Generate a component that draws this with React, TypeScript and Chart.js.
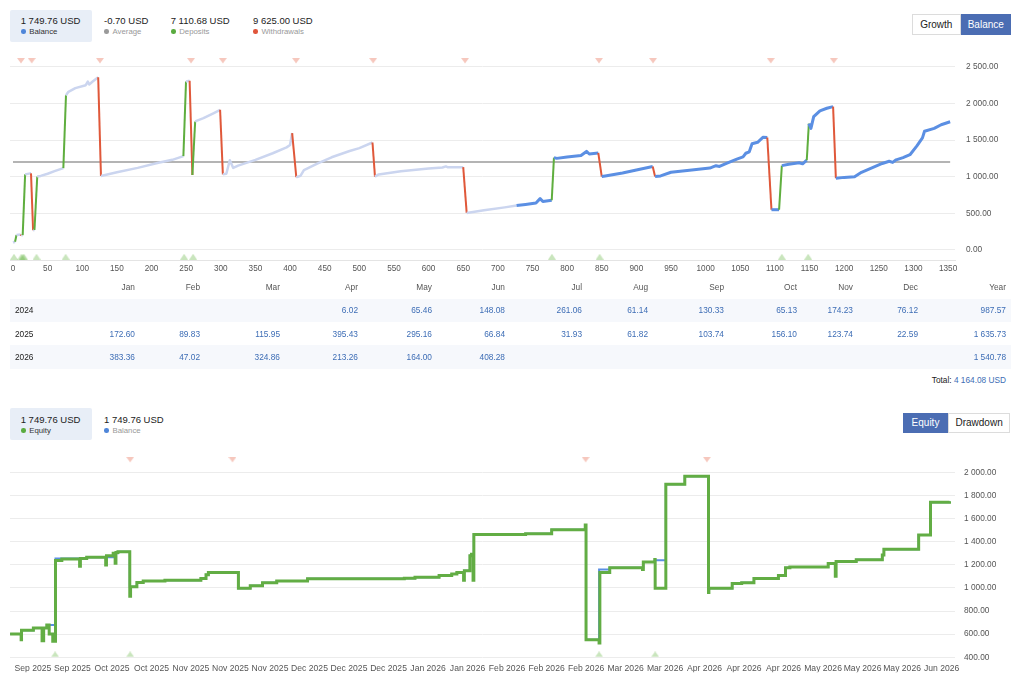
import React, { useEffect, useRef } from 'react';
import { Chart, registerables } from 'chart.js';
Chart.register(...registerables);

const FONT = '"Liberation Sans", Arial, Helvetica, sans-serif';

// ---------- header data ----------
const topStatValues = ['1 749.76 USD', '-0.70 USD', '7 110.68 USD', '9 625.00 USD'];
const topStatLabels = ['Balance', 'Average', 'Deposits', 'Withdrawals'];
const topStatColors = ['#4f86d9', '#9a9a9a', '#5aab3f', '#e0553b'];
const bottomStatValues = ['1 749.76 USD', '1 749.76 USD'];
const bottomStatLabels = ['Equity', 'Balance'];
const bottomStatColors = ['#5aab3f', '#4f86d9'];

// ---------- top chart data (balance by trade #) ----------
const balanceX = [0, 3, 5, 11, 12, 14, 17.5, 25, 26, 29, 31, 35, 40, 50, 60, 72.7, 76.5, 80, 90, 105, 108, 110, 115, 123, 127, 150, 180, 210, 230, 246, 249.8, 255, 259, 263, 275, 290, 299, 303, 308, 313, 318, 325, 350, 375, 395, 400, 403, 409, 415, 420, 440, 460, 486, 500, 519, 522.6, 528, 560, 600, 620, 625, 628, 650, 655, 680, 710, 727, 740, 755, 761, 765, 777.8, 781, 785, 800, 820, 828, 832, 845, 850, 855, 880, 900, 923.6, 927, 935, 950, 980, 1006, 1015, 1020, 1030, 1045, 1054, 1058, 1063, 1067, 1075, 1083, 1089, 1095, 1106, 1110, 1120, 1135, 1140, 1146, 1149, 1152, 1156, 1165, 1175, 1184, 1188, 1200, 1215, 1225, 1240, 1255, 1265, 1270, 1275, 1285, 1295, 1305, 1313, 1316, 1330, 1340, 1353];
const balanceY = [100, 110, 203, 210, 195, 200, 1031, 1045, 1045, 268, 270, 1001, 1010, 1040, 1075, 1117, 2113, 2160, 2210, 2250, 2300, 2260, 2300, 2359, 1009, 1060, 1120, 1190, 1230, 1281, 2302, 2310, 1022, 1755, 1800, 1870, 1914, 1031, 1040, 1225, 1119, 1150, 1230, 1320, 1400, 1432, 1596, 992, 1010, 1090, 1180, 1265, 1350, 1390, 1467, 1001, 1030, 1075, 1110, 1125, 1140, 1128, 1130, 504, 540, 580, 604, 620, 640, 699, 660, 677, 1260, 1250, 1270, 1290, 1345, 1310, 1324, 1001, 1010, 1050, 1090, 1138, 1001, 1010, 1060, 1090, 1117, 1150, 1140, 1182, 1240, 1270, 1320, 1340, 1449, 1470, 1539, 1535, 548, 548, 1151, 1170, 1190, 1175, 1225, 1725, 1660, 1820, 1900, 1935, 1958, 979, 990, 1000, 1060, 1120, 1180, 1210, 1195, 1230, 1260, 1300, 1420, 1530, 1620, 1660, 1710, 1750];
const depositEnds = [5, 17.5, 35, 76.5, 249.8, 263, 781, 1110, 1149];
const withdrawalEnds = [12, 29, 127, 259, 303, 409, 522.6, 655, 850, 927, 1095, 1188];
const highlightFrom = 727;
const averageValue = 1200;
const averageSpan = [0, 1353];
const withdrawalMarksX = [11.5, 27, 125.6, 257, 303, 408.6, 520, 652.6, 846, 924, 1094, 1185];
const depositMarksX = [1.4, 12, 14, 16, 34, 76, 247, 260, 778, 847, 1110, 1148];
const topXTicks = Array.from({ length: 28 }, (_, i) => i * 50);
const topYTicks = [0, 500, 1000, 1500, 2000, 2500];

// ---------- monthly table ----------
const months = ['Jan', 'Feb', 'Mar', 'Apr', 'May', 'Jun', 'Jul', 'Aug', 'Sep', 'Oct', 'Nov', 'Dec'];
const years = ['2024', '2025', '2026'];
const returns2024 = [null, null, null, 6.02, 65.46, 148.08, 261.06, 61.14, 130.33, 65.13, 174.23, 76.12];
const returns2025 = [172.6, 89.83, 115.95, 395.43, 295.16, 66.84, 31.93, 61.82, 103.74, 156.1, 123.74, 22.59];
const returns2026 = [383.36, 47.02, 324.86, 213.26, 164.0, 408.28, null, null, null, null, null, null];
const yearTotals = [987.57, 1635.73, 1540.78];
const grandTotal = 4164.08;

// ---------- bottom chart data (equity / balance over time) ----------
const dateLabels = ['Sep 2025', 'Sep 2025', 'Oct 2025', 'Oct 2025', 'Nov 2025', 'Nov 2025', 'Nov 2025', 'Dec 2025', 'Dec 2025', 'Dec 2025', 'Jan 2026', 'Jan 2026', 'Feb 2026', 'Feb 2026', 'Feb 2026', 'Mar 2026', 'Mar 2026', 'Apr 2026', 'Apr 2026', 'Apr 2026', 'May 2026', 'May 2026', 'May 2026', 'Jun 2026'];
const equityX = [-0.58, -0.3, -0.29, 0.01, 0.23, 0.27, 0.35, 0.41, 0.5, 0.57, 0.73, 1.18, 1.2, 1.36, 1.84, 1.86, 2.03, 2.08, 2.1, 2.15, 2.45, 2.47, 2.63, 2.79, 3.34, 4.25, 4.38, 4.44, 5.2, 5.5, 5.81, 6.17, 6.95, 9.4, 9.67, 10.28, 10.6, 10.73, 10.9, 10.92, 11.06, 11.1, 11.14, 11.16, 12.47, 13.13, 13.98, 14.0, 14.33, 14.35, 14.6, 15.43, 15.45, 15.74, 15.75, 16.02, 16.5, 17.1, 17.11, 17.7, 17.94, 18.25, 18.87, 19.05, 19.16, 20.13, 20.31, 20.33, 20.84, 21.5, 21.54, 22.42, 22.72, 23.2];
const equityY = [601, 552, 634, 653, 543, 653, 680, 601, 538, 1239, 1250, 1189, 1255, 1266, 1200, 1280, 1300, 1215, 1307, 1313, 928, 1010, 1047, 1060, 1068, 1083, 1115, 1134, 997, 1019, 1046, 1060, 1079, 1085, 1093, 1109, 1122, 1134, 1068, 1150, 1280, 1293, 1068, 1464, 1470, 1505, 1546, 552, 524, 1134, 1175, 1160, 1225, 1247, 997, 1899, 1967, 962, 997, 1038, 1046, 1082, 1109, 1175, 1182, 1211, 1101, 1230, 1244, 1286, 1335, 1459, 1742, 1750];
const balance2X = [-0.58, -0.29, 0.01, 0.35, 0.57, 1.36, 2.03, 2.15, 2.45, 2.63, 2.79, 3.34, 4.25, 4.38, 4.44, 5.2, 5.5, 5.81, 6.17, 6.95, 9.4, 9.67, 10.28, 10.6, 10.73, 10.92, 11.06, 11.1, 11.16, 12.47, 13.13, 13.98, 14.0, 14.33, 14.6, 15.45, 15.74, 16.02, 16.5, 17.1, 17.7, 17.94, 18.25, 18.87, 19.05, 19.16, 20.13, 20.33, 20.84, 21.5, 21.54, 22.42, 22.72, 23.2];
const balance2Y = [601, 634, 653, 680, 1255, 1266, 1300, 1313, 1010, 1047, 1060, 1068, 1083, 1115, 1134, 997, 1019, 1046, 1060, 1079, 1085, 1093, 1109, 1122, 1134, 1150, 1280, 1293, 1464, 1470, 1505, 1510, 552, 1160, 1175, 1225, 1240, 1899, 1967, 997, 1038, 1046, 1082, 1109, 1175, 1182, 1211, 1230, 1244, 1286, 1335, 1459, 1742, 1750];
const bottomWithdrawalMarksX = [2.46, 5.05, 13.99, 17.06];
const bottomDepositMarksX = [0.56, 2.46, 14.33, 15.75];
const bottomYTicks = [400, 600, 800, 1000, 1200, 1400, 1600, 1800, 2000];

// ---------- helpers ----------
const fmt = (v: number) => {
  const [i, d] = Number(v).toFixed(2).split('.');
  return i.replace(/\B(?=(\d{3})+(?!\d))/g, ' ') + '.' + d;
};

function makeTriangle(color: string, down: boolean, w = 8, h = 5.5) {
  const c = document.createElement('canvas');
  c.width = Math.ceil(w);
  c.height = Math.ceil(h);
  const ctx = c.getContext('2d')!;
  ctx.fillStyle = color;
  ctx.beginPath();
  if (down) {
    ctx.moveTo(0, 0); ctx.lineTo(w, 0); ctx.lineTo(w / 2, h);
  } else {
    ctx.moveTo(0, h); ctx.lineTo(w, h); ctx.lineTo(w / 2, 0);
  }
  ctx.closePath();
  ctx.fill();
  return c;
}

const GRID = '#ececec';
const TICK = '#555';
const GREEN = '#5fae3e';
const RED = '#e0583a';
const BLUE = '#5b8fe3';
const LIGHT = '#cbd5ef';

function ChartCanvas({ build, width, height, style }: any) {
  const ref = useRef<HTMLCanvasElement>(null);
  useEffect(() => {
    const chart = new Chart(ref.current!, build());
    return () => chart.destroy();
  }, []);
  return <canvas ref={ref} width={width} height={height} style={{ display: 'block', width, height, ...style }} />;
}

function buildTop(): any {
  const pink = makeTriangle('rgba(236,130,108,0.45)', true, 8, 5.5);
  const green = makeTriangle('rgba(120,190,90,0.4)', false, 8, 6);
  const kind = (x: number) =>
    depositEnds.includes(x) ? 'd' : withdrawalEnds.includes(x) ? 'w' : x <= highlightFrom ? 'l' : 'b';
  return {
    type: 'line',
    data: {
      datasets: [
        {
          data: balanceX.map((x, i) => ({ x, y: balanceY[i] })),
          pointRadius: 0,
          borderColor: LIGHT,
          borderWidth: 2.5,
          borderJoinStyle: 'round',
          segment: {
            borderColor: (c: any) => {
              const k = kind(c.p1.parsed.x);
              return k === 'd' ? GREEN : k === 'w' ? RED : k === 'l' ? LIGHT : BLUE;
            },
            borderWidth: (c: any) => {
              const k = kind(c.p1.parsed.x);
              return k === 'd' || k === 'w' ? 2 : k === 'l' ? 2.5 : 3;
            },
          },
        },
        {
          data: averageSpan.map((x) => ({ x, y: averageValue })),
          pointRadius: 0,
          borderColor: '#9b9b9b',
          borderWidth: 1.5,
        },
        {
          data: withdrawalMarksX.map((x) => ({ x, y: 2583 })),
          showLine: false,
          pointStyle: pink,
          pointRadius: 4,
        },
        {
          data: depositMarksX.map((x) => ({ x, y: -95 })),
          showLine: false,
          pointStyle: green,
          pointRadius: 4,
        },
      ],
    },
    options: {
      animation: false,
      responsive: false,
      maintainAspectRatio: false,
      events: [],
      layout: { padding: { left: 10, top: 5.8, right: 0, bottom: 0 } },
      plugins: { legend: { display: false }, tooltip: { enabled: false } },
      scales: {
        x: {
          type: 'linear',
          min: -4.33,
          max: 1360,
          grid: { display: false, drawTicks: false },
          border: { display: true, color: '#e4e4e4' },
          ticks: {
            font: { family: FONT, size: 8.2 }, color: TICK, padding: 4, maxRotation: 0, autoSkip: false,
            callback: (v: any) => String(v),
          },
          afterBuildTicks: (a: any) => { a.ticks = topXTicks.map((v) => ({ value: v })); },
          afterFit: (s: any) => { s.height = 15; },
        },
        y: {
          position: 'right',
          min: -140,
          max: 2650,
          grid: { color: GRID, drawTicks: false },
          border: { display: false },
          ticks: { font: { family: FONT, size: 8.3 }, color: TICK, padding: 11, callback: (v: any) => fmt(v) },
          afterBuildTicks: (a: any) => { a.ticks = topYTicks.map((v) => ({ value: v })); },
          afterFit: (s: any) => { s.width = 69; },
        },
      },
    },
  };
}

function buildBottom(): any {
  const pink = makeTriangle('rgba(236,130,108,0.45)', true, 8, 5.5);
  const green = makeTriangle('rgba(120,190,90,0.4)', false, 8, 5.5);
  return {
    type: 'line',
    data: {
      datasets: [
        {
          data: equityX.map((x, i) => ({ x, y: equityY[i] })),
          stepped: 'before',
          pointRadius: 0,
          borderColor: '#62ad44',
          borderWidth: 3,
        },
        {
          data: balance2X.map((x, i) => ({ x, y: balance2Y[i] })),
          stepped: 'before',
          pointRadius: 0,
          borderColor: BLUE,
          borderWidth: 2,
        },
        {
          data: bottomWithdrawalMarksX.map((x) => ({ x, y: 2110 })),
          showLine: false,
          pointStyle: pink,
          pointRadius: 4,
        },
        {
          data: bottomDepositMarksX.map((x) => ({ x, y: 425 })),
          showLine: false,
          pointStyle: green,
          pointRadius: 4,
        },
      ],
    },
    options: {
      animation: false,
      responsive: false,
      maintainAspectRatio: false,
      events: [],
      layout: { padding: { left: 10, top: 4.3, right: 0, bottom: 0.7 } },
      plugins: { legend: { display: false }, tooltip: { enabled: false } },
      scales: {
        x: {
          type: 'linear',
          min: -0.582,
          max: 23.34,
          grid: { display: false, drawTicks: false },
          border: { display: false },
          ticks: {
            font: { family: FONT, size: 8.6 },
            color: TICK,
            padding: 6,
            maxRotation: 0,
            autoSkip: false,
            callback: (v: any) => dateLabels[Math.round(v)] ?? '',
          },
          afterBuildTicks: (a: any) => { a.ticks = dateLabels.map((_, i) => ({ value: i })); },
          afterFit: (s: any) => { s.height = 15; },
        },
        y: {
          position: 'right',
          min: 400,
          max: 2160,
          grid: { color: GRID, drawTicks: false },
          border: { display: false },
          ticks: { font: { family: FONT, size: 8.3 }, color: TICK, padding: 9, callback: (v: any) => fmt(v) },
          afterBuildTicks: (a: any) => { a.ticks = bottomYTicks.map((v) => ({ value: v })); },
          afterFit: (s: any) => { s.width = 69; },
        },
      },
    },
  };
}

function Stat({ left, top, value, label, color, active }: any) {
  return (
    <>
      <div style={{ position: 'absolute', left, top, fontSize: 9.5, lineHeight: '12px', color: '#222', whiteSpace: 'nowrap' }}>{value}</div>
      <div style={{ position: 'absolute', left: left + 0.3, top: top + 14.3, width: 4.5, height: 4.5, borderRadius: '50%', background: color }} />
      <div style={{ position: 'absolute', left: left + 8.5, top: top + 11, fontSize: 7.8, lineHeight: '11px', color: active ? '#333' : '#999', whiteSpace: 'nowrap' }}>{label}</div>
    </>
  );
}

function Button({ left, top, width, height, text, active }: any) {
  return (
    <div
      style={{
        position: 'absolute', left, top, width, height, boxSizing: 'border-box',
        border: active ? '1px solid #4b6db3' : '1px solid #dcdcdc',
        background: active ? '#4b6db3' : '#fff', color: active ? '#fff' : '#222',
        fontSize: 10, lineHeight: `${height - 2}px`, textAlign: 'center',
      }}
    >
      {text}
    </div>
  );
}

const colWidths = [65, 65, 65, 80, 78, 74, 73, 77, 66, 76, 73, 56, 65, 88];

export default function App() {
  const topStatLeft = [20.7, 104, 170.7, 253];
  const bottomStatLeft = [20.7, 104];
  const rows = [returns2024, returns2025, returns2026];
  const cell: any = { padding: '0 5px', textAlign: 'right', whiteSpace: 'nowrap', overflow: 'hidden' };
  return (
    <div style={{ position: 'absolute', left: 0, top: 0, width: 1024, height: 682, background: '#fff', overflow: 'hidden', fontFamily: FONT }}>
      {/* top header */}
      <div style={{ position: 'absolute', left: 9.5, top: 10, width: 82, height: 32, background: '#e8eef7', borderRadius: 2 }} />
      {topStatValues.map((v, i) => (
        <Stat key={i} left={topStatLeft[i]} top={15} value={v} label={topStatLabels[i]} color={topStatColors[i]} active={i === 0} />
      ))}
      <Button left={911.5} top={14} width={49.5} height={21} text="Growth" active={false} />
      <Button left={960.5} top={14} width={50.5} height={21} text="Balance" active={true} />

      <div style={{ position: 'absolute', left: 0, top: 40 }}>
        <ChartCanvas build={buildTop} width={1024} height={236} />
      </div>

      {/* monthly table */}
      <table
        style={{
          position: 'absolute', left: 10, top: 275.3, width: 1001, borderCollapse: 'collapse', tableLayout: 'fixed',
          fontFamily: FONT, fontSize: 8.3,
        }}
      >
        <colgroup>
          {colWidths.map((w, i) => <col key={i} style={{ width: w }} />)}
        </colgroup>
        <tbody>
          <tr style={{ height: 23.4 }}>
            <td style={cell}></td>
            {months.map((m) => <td key={m} style={{ ...cell, color: '#555' }}>{m}</td>)}
            <td style={{ ...cell, color: '#555' }}>Year</td>
          </tr>
          {rows.map((r, ri) => (
            <tr key={ri} style={{ height: 23.4, background: ri % 2 === 0 ? '#f6f8fc' : '#fff' }}>
              <td style={{ ...cell, textAlign: 'left', color: '#222' }}>{years[ri]}</td>
              {r.map((v, ci) => (
                <td key={ci} style={{ ...cell, color: '#3d6db5' }}>{v == null ? '' : fmt(v)}</td>
              ))}
              <td style={{ ...cell, color: '#3d6db5' }}>{fmt(yearTotals[ri])}</td>
            </tr>
          ))}
        </tbody>
      </table>
      <div style={{ position: 'absolute', right: 1024 - 1006, top: 374.5, fontSize: 8.3, lineHeight: '11px', color: '#222', whiteSpace: 'nowrap' }}>
        Total: <span style={{ color: '#3d6db5' }}>{fmt(grandTotal)} USD</span>
      </div>

      {/* bottom header */}
      <div style={{ position: 'absolute', left: 9.5, top: 408.3, width: 82, height: 32, background: '#e8eef7', borderRadius: 2 }} />
      {bottomStatValues.map((v, i) => (
        <Stat key={i} left={bottomStatLeft[i]} top={414} value={v} label={bottomStatLabels[i]} color={bottomStatColors[i]} active={i === 0} />
      ))}
      <Button left={903.3} top={413.3} width={44.4} height={20} text="Equity" active={true} />
      <Button left={947.7} top={413.3} width={62.8} height={20} text="Drawdown" active={false} />

      <div style={{ position: 'absolute', left: 0, top: 440 }}>
        <ChartCanvas build={buildBottom} width={1024} height={233} />
      </div>
    </div>
  );
}
